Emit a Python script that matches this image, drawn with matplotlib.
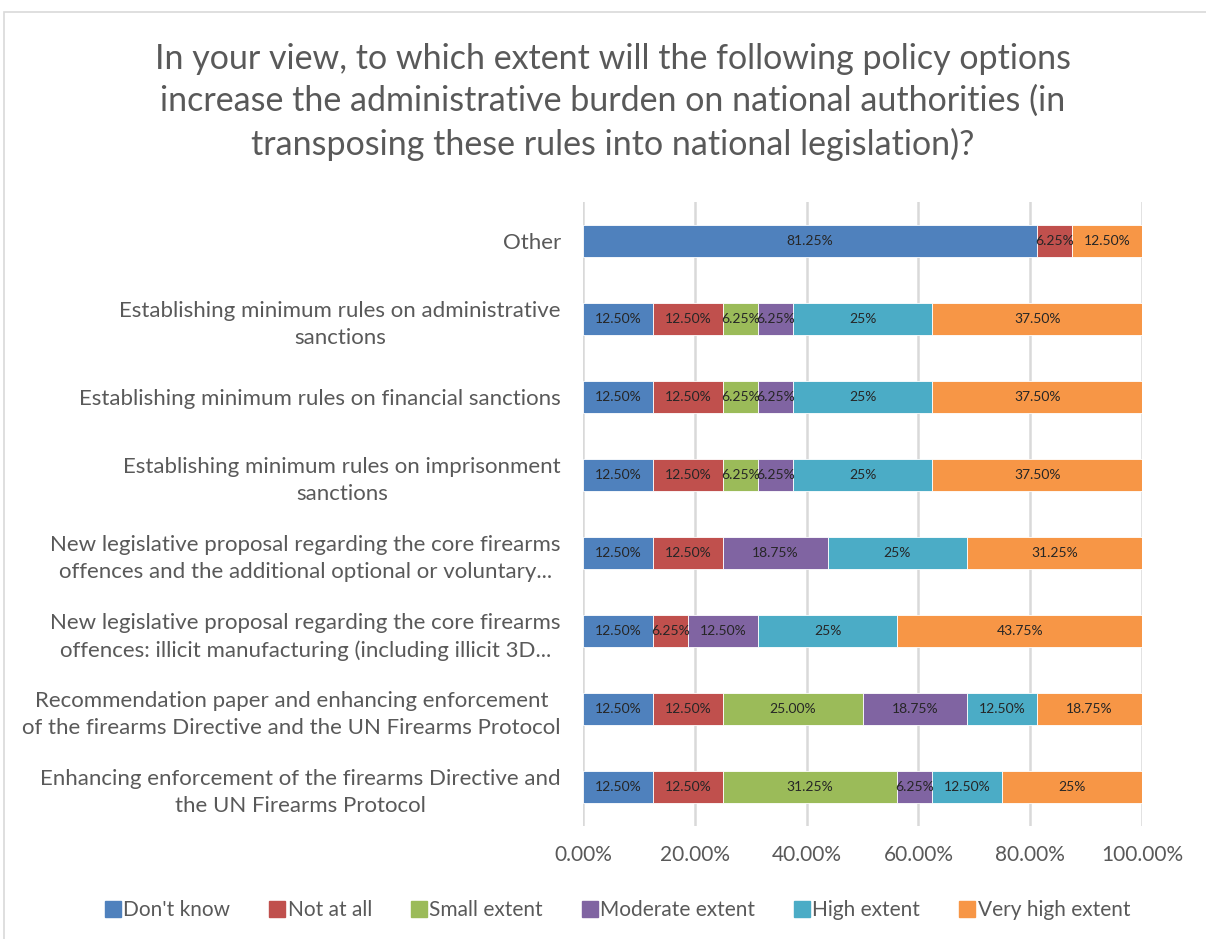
"""
Grafico de barras empilhadas 100% - carga administrativa das opcoes de politica.
"""
import matplotlib.pyplot as plt
from matplotlib.patches import Rectangle
from matplotlib.lines import Line2D
from matplotlib.ticker import FuncFormatter

TITLE = ('In your view, to which extent will the following policy options\n'
         'increase the administrative burden on national authorities (in\n'
         'transposing these rules into national legislation)?')

CATEGORIAS = [
    'Other',
    'Establishing minimum rules on administrative\nsanctions',
    'Establishing minimum rules on financial sanctions',
    'Establishing minimum rules on imprisonment\nsanctions',
    'New legislative proposal regarding the core firearms\n'
    'offences and the additional optional or voluntary...',
    'New legislative proposal regarding the core firearms\n'
    'offences: illicit manufacturing (including illicit 3D...',
    'Recommendation paper and enhancing enforcement\n'
    'of the firearms Directive and the UN Firearms Protocol',
    'Enhancing enforcement of the firearms Directive and\n'
    'the UN Firearms Protocol',
]

SERIES = ["Don't know", 'Not at all', 'Small extent', 'Moderate extent',
          'High extent', 'Very high extent']
CORES = ['#4F81BD', '#C0504D', '#9BBB59', '#8064A2', '#4BACC6', '#F79646']

dont_know = [0.8125, 0.125, 0.125, 0.125, 0.125, 0.125, 0.125, 0.125]
not_at_all = [0.0625, 0.125, 0.125, 0.125, 0.125, 0.0625, 0.125, 0.125]
small = [0.0, 0.0625, 0.0625, 0.0625, 0.0, 0.0, 0.25, 0.3125]
moderate = [0.0, 0.0625, 0.0625, 0.0625, 0.1875, 0.125, 0.1875, 0.0625]
high = [0.0, 0.25, 0.25, 0.25, 0.25, 0.25, 0.125, 0.125]
very_high = [0.125, 0.375, 0.375, 0.375, 0.3125, 0.4375, 0.1875, 0.25]

lbl_dont_know = ['81.25%', '12.50%', '12.50%', '12.50%', '12.50%', '12.50%', '12.50%', '12.50%']
lbl_not_at_all = ['6.25%', '12.50%', '12.50%', '12.50%', '12.50%', '6.25%', '12.50%', '12.50%']
lbl_small = ['', '6.25%', '6.25%', '6.25%', '', '', '25.00%', '31.25%']
lbl_moderate = ['', '6.25%', '6.25%', '6.25%', '18.75%', '12.50%', '18.75%', '6.25%']
lbl_high = ['', '25%', '25%', '25%', '25%', '25%', '12.50%', '12.50%']
lbl_very_high = ['12.50%', '37.50%', '37.50%', '37.50%', '31.25%', '43.75%', '18.75%', '25%']

VALORES = [dont_know, not_at_all, small, moderate, high, very_high]
ROTULOS = [lbl_dont_know, lbl_not_at_all, lbl_small, lbl_moderate, lbl_high, lbl_very_high]

GRAY = '#595959'
plt.rcParams['font.family'] = ['Lato', 'DejaVu Sans']

fig = plt.figure(figsize=(12.06, 9.39), dpi=100)
fig.patches.append(Rectangle((4 / 1206, -0.05), 1.2, 1 - 12 / 939 + 0.05,
                             transform=fig.transFigure, fill=False,
                             edgecolor='#d9d9d9', linewidth=1.2))

ax = fig.add_axes([583 / 1206, 1 - 826 / 939, 559 / 1206, 624 / 939])

y = list(range(len(CATEGORIAS)))
left = [0.0] * len(CATEGORIAS)
for vals, lbls, cor, nome in zip(VALORES, ROTULOS, CORES, SERIES):
    bars = ax.barh(y, vals, left=left, height=0.4, color=cor,
                   edgecolor='white', linewidth=0.6, label=nome, zorder=2)
    for b, txt in zip(bars, lbls):
        if txt:
            ax.text(b.get_x() + b.get_width() / 2, b.get_y() + b.get_height() / 2,
                    txt, ha='center', va='center', fontsize=10, color='#262626',
                    zorder=3)
    left = [l + v for l, v in zip(left, vals)]

ax.set_xlim(0, 1)
ax.set_ylim(len(CATEGORIAS) - 0.5, -0.5)
ax.set_xticks([0, 0.2, 0.4, 0.6, 0.8, 1.0])
ax.xaxis.set_major_formatter(FuncFormatter(lambda v, _: f'{v * 100:.2f}%'))
ax.set_yticks(y)
ax.set_yticklabels(CATEGORIAS, fontsize=16, color=GRAY, multialignment='center',
                   linespacing=1.45)
ax.tick_params(axis='x', labelsize=15, labelcolor=GRAY, length=0, pad=14)
ax.tick_params(axis='y', length=0, pad=16)
ax.grid(axis='x', color='#d9d9d9', linewidth=1.8, zorder=0)
ax.set_axisbelow(True)
for s in ax.spines.values():
    s.set_visible(False)

fig.text(0.508, 1 - 43 / 939, TITLE, ha='center', va='top', fontsize=24.5,
         color=GRAY, linespacing=1.38)

handles = [Line2D([0], [0], marker='s', linestyle='none', markersize=11,
                  markerfacecolor=c, markeredgecolor=c) for c in CORES]
fig.legend(handles, SERIES, loc='center', bbox_to_anchor=(0.511, 1 - 910 / 939),
           ncol=6, frameon=False, fontsize=15, labelcolor=GRAY,
           handletextpad=0.0, columnspacing=1.75, handlelength=1.0)

fig.savefig('out.png', dpi=100)
